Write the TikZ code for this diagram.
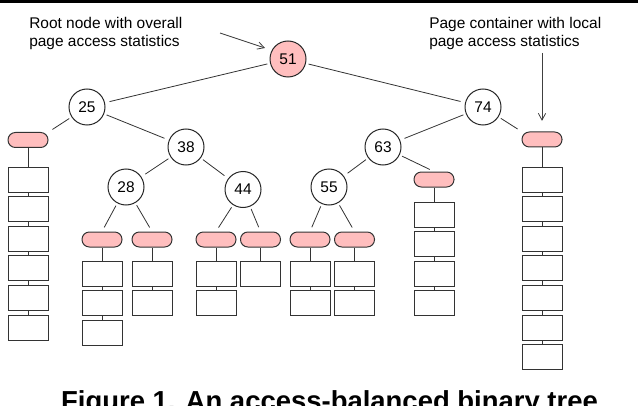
\documentclass[tikz,border=0pt]{standalone}
\usepackage{fontspec}
\setmainfont{Liberation Sans}
\usetikzlibrary{arrows.meta}
\definecolor{pagepink}{RGB}{255,190,190}
\begin{document}
\begin{tikzpicture}[x=0.75pt,y=-0.75pt,
  treenode/.style={circle,draw=black!85,line width=0.75pt,minimum size=27pt,inner sep=0pt,font=\fontsize{11.6}{13}\selectfont},
  rootnode/.style={treenode,fill=pagepink},
  container/.style={rectangle,rounded corners=5.5pt,draw=black!80,fill=pagepink,line width=0.75pt,minimum width=30pt,minimum height=11.25pt,inner sep=0pt},
  pagebox/.style={rectangle,draw=black!80,line width=0.75pt,minimum width=30pt,minimum height=18.75pt,inner sep=0pt},
  edge/.style={draw=black!80,line width=0.6pt,shorten <=2pt,shorten >=3.5pt},
  link/.style={draw=black!80,line width=0.6pt},
  note/.style={align=left,inner sep=0pt,anchor=north west,font=\fontsize{11.6}{13.5}\selectfont},
  pointer/.style={draw=black!75,line width=0.6pt,-{Straight Barb[length=5pt,width=5.5pt]}},
  captionstyle/.style={anchor=base,inner sep=0pt,font=\bfseries\fontsize{20.6}{24}\selectfont}
]
\useasboundingbox (0,0) rectangle (638,406);
\fill[black] (0,0) rectangle (638,2.7);

% annotations
\node[note] (rootnote) at (29,17.5) {Root node with overall\\page access statistics};
\node[note] (ctrnote) at (429,17.5) {Page container with local\\page access statistics};

% tree nodes
\node[rootnode] (n51) at (288,59) {51};
\node[treenode] (n25) at (87,107) {25};
\node[treenode] (n74) at (483,107) {74};
\node[treenode] (n38) at (186,147) {38};
\node[treenode] (n63) at (383,147) {63};
\node[treenode] (n28) at (126,187) {28};
\node[treenode] (n44) at (243,189.5) {44};
\node[treenode] (n55) at (329,187) {55};

% containers
\node[container] (c25) at (28,140) {};
\node[container] (c28a) at (102,239.5) {};
\node[container] (c28b) at (152,239.5) {};
\node[container] (c44a) at (216,239.5) {};
\node[container] (c44b) at (260.5,239.5) {};
\node[container] (c55a) at (310,239.5) {};
\node[container] (c55b) at (354.5,239.5) {};
\node[container] (c63) at (434,179.5) {};
\node[container] (c74) at (542,139.5) {};

% page boxes
\foreach \c/\x/\y/\n in {c25/28/179.5/6, c28a/102/273.5/3, c28b/152/273.5/2,
  c44a/216/273.5/2, c44b/260.5/273.5/1, c55a/310/273.5/2, c55b/354.5/273.5/2,
  c63/434/214.5/4, c74/542/179.5/7} {
  \foreach \k in {1,...,\n} {
    \node[pagebox] (\c-\k) at (\x,{\y+(\k-1)*29.6}) {};
  }
  \draw[link] (\c.south) -- (\c-1.north);
  \ifnum\n>1
    \foreach \k [remember=\k as \p (initially 1)] in {2,...,\n} {
      \draw[link] (\c-\p.south) -- (\c-\k.north);
    }
  \fi
}

% tree edges
\draw[edge] (n51) -- (n25);
\draw[edge] (n51) -- (n74);
\draw[edge] (n25) -- (c25.north east);
\draw[edge] (n25) -- (n38);
\draw[edge] (n38) -- (n28);
\draw[edge] (n38) -- (n44);
\draw[edge] (n28) -- (c28a.north);
\draw[edge] (n28) -- (c28b.north);
\draw[edge] (n44) -- (c44a.north);
\draw[edge] (n44) -- (c44b.north);
\draw[edge] (n74) -- (n63);
\draw[edge] (n74) -- (c74.north west);
\draw[edge] (n63) -- (n55);
\draw[edge] (n63) -- (c63.north);
\draw[edge] (n55) -- (c55a.north);
\draw[edge] (n55) -- (c55b.north);

% pointers
\coordinate (rootptr) at (220,33);
\coordinate (rootptrtip) at (265,48);
\draw[pointer] (rootptr) -- (rootptrtip);
\coordinate (ctrptr) at (542,53);
\draw[pointer,shorten >=8pt] (ctrptr) -- (c74.north);

% caption
\node[captionstyle] (caption) at (329.5,410.5) {Figure 1. An access-balanced binary tree};
\end{tikzpicture}
\end{document}
